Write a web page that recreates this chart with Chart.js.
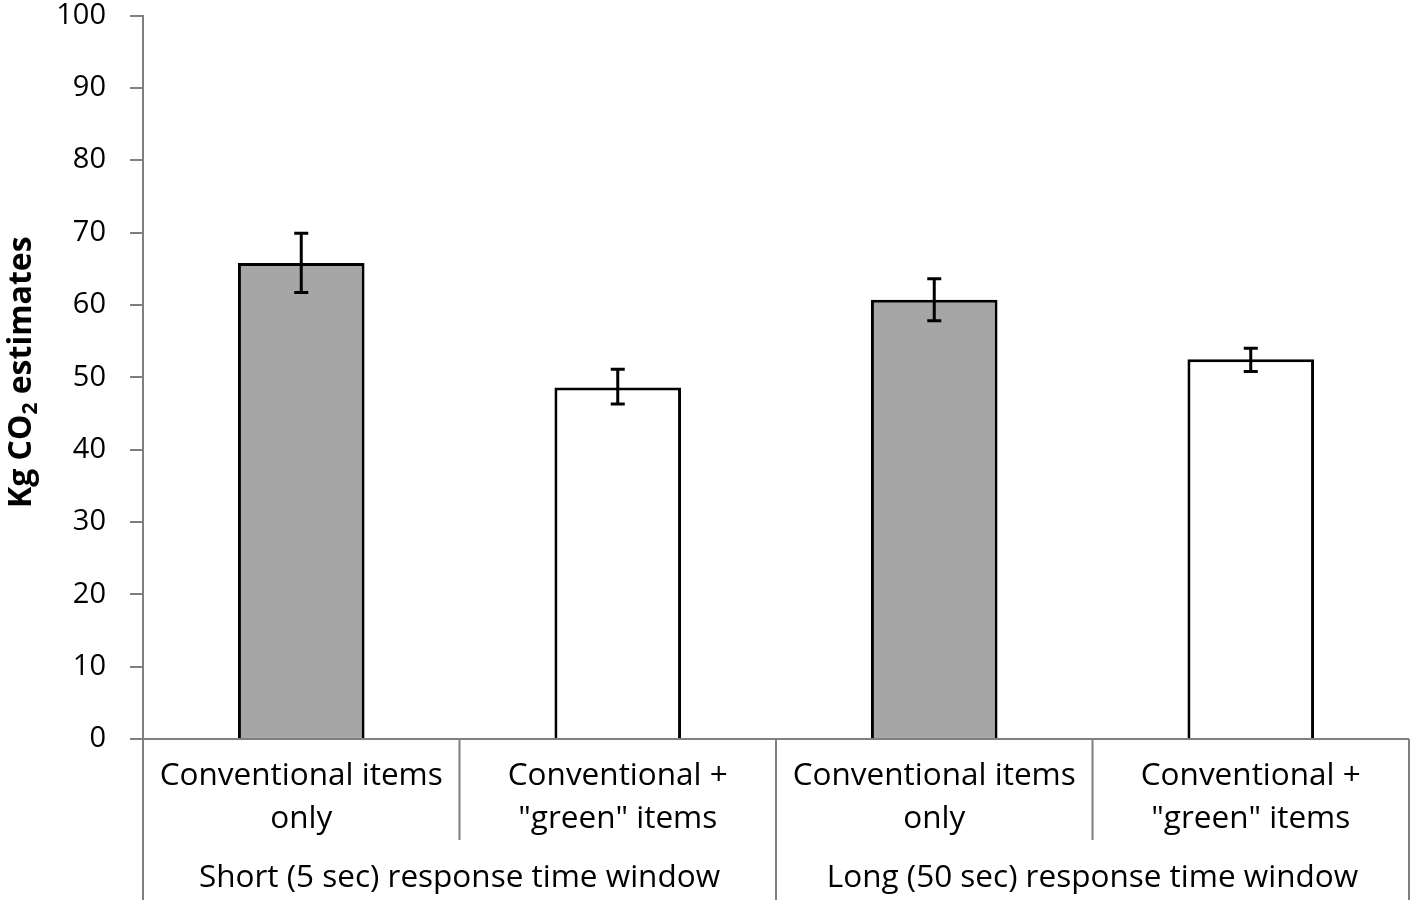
<!DOCTYPE html>
<html>
<head>
<meta charset="utf-8">
<script src="https://cdn.jsdelivr.net/npm/chart.js@4.4.0/dist/chart.umd.min.js"></script>
<style>
  html, body { margin: 0; padding: 0; background: #fff; }
  #wrap { width: 1418px; height: 908px; }
</style>
</head>
<body>
<div id="wrap"><canvas id="chart"></canvas></div>
<script>
// data
var conditions = [['Conventional items', 'only'], ['Conventional +', '"green" items'], ['Conventional items', 'only'], ['Conventional +', '"green" items']];
var windows = ['Short (5 sec) response time window', 'Long (50 sec) response time window'];
var means = [65.8, 48.6, 60.7, 52.5];
var errLow = [61.7, 46.3, 57.8, 50.8];
var errHigh = [69.9, 51.1, 63.6, 54.0];
var yTicks = [0, 10, 20, 30, 40, 50, 60, 70, 80, 90, 100];

var fills = ['#a6a6a6', '#ffffff', '#a6a6a6', '#ffffff'];
var axisGray = '#7f7f7f';
var fontFam = '"Open Sans", sans-serif';

var errorBars = {
    id: 'errorBars',
    afterDatasetsDraw: function (chart) {
        var ctx = chart.ctx, y = chart.scales.y;
        var meta = chart.getDatasetMeta(0);
        ctx.save();
        ctx.strokeStyle = '#000';
        ctx.lineWidth = 3;
        meta.data.forEach(function (bar, i) {
            var x = bar.x, top = y.getPixelForValue(errHigh[i]), bot = y.getPixelForValue(errLow[i]);
            ctx.beginPath();
            ctx.moveTo(x, top); ctx.lineTo(x, bot);
            ctx.moveTo(x - 7, top); ctx.lineTo(x + 7, top);
            ctx.moveTo(x - 7, bot); ctx.lineTo(x + 7, bot);
            ctx.stroke();
        });
        ctx.restore();
    }
};

var categoryAxis = {
    id: 'categoryAxis',
    afterDraw: function (chart) {
        var ctx = chart.ctx, x = chart.scales.x, area = chart.chartArea;
        var base = area.bottom;
        var half = (x.getPixelForValue(1) - x.getPixelForValue(0)) / 2;
        ctx.save();
        ctx.strokeStyle = axisGray;
        ctx.lineWidth = 2;
        ctx.beginPath();
        ctx.moveTo(area.left, base); ctx.lineTo(area.right, base);
        for (var i = 0; i <= conditions.length; i++) {
            var px = x.getPixelForValue(i) - half;
            var outer = (i % 2 === 0);
            ctx.moveTo(px, base); ctx.lineTo(px, outer ? base + 161 : base + 101);
        }
        ctx.stroke();

        ctx.fillStyle = '#000';
        ctx.font = '31.5px ' + fontFam;
        ctx.textAlign = 'center';
        ctx.textBaseline = 'middle';
        conditions.forEach(function (lines, i) {
            var cx = x.getPixelForValue(i);
            lines.forEach(function (t, j) { ctx.fillText(t, cx, base + 37 + j * 43); });
        });
        windows.forEach(function (t, g) {
            var cx = (x.getPixelForValue(g * 2) + x.getPixelForValue(g * 2 + 1)) / 2;
            ctx.fillText(t, cx, base + 139);
        });

        // y axis title with subscript
        ctx.translate(22, (area.top + area.bottom) / 2 - 5);
        ctx.rotate(-Math.PI / 2);
        ctx.textAlign = 'left';
        ctx.textBaseline = 'middle';
        var big = 'bold 32px ' + fontFam, small = 'bold 21px ' + fontFam;
        var parts = [['Kg CO', big, 0], ['2', small, 9], [' estimates', big, 0]];
        var w = 0;
        parts.forEach(function (p) { ctx.font = p[1]; w += ctx.measureText(p[0]).width; });
        var pos = -w / 2;
        parts.forEach(function (p) {
            ctx.font = p[1];
            ctx.fillText(p[0], pos, p[2]);
            pos += ctx.measureText(p[0]).width;
        });
        ctx.restore();
    }
};

new Chart(document.getElementById('chart'), {
    type: 'bar',
    data: {
        labels: conditions.map(function (c) { return c.join(' '); }),
        datasets: [{
            data: means,
            backgroundColor: fills,
            borderColor: '#000',
            borderWidth: 3,
            barPercentage: 0.4,
            categoryPercentage: 1
        }]
    },
    options: {
        responsive: true,
        maintainAspectRatio: false,
        animation: false,
        layout: { padding: { top: 15.5, right: 9, bottom: 169, left: 0 } },
        plugins: { legend: { display: false }, tooltip: { enabled: false } },
        scales: {
            x: { display: false },
            y: {
                min: 0, max: 100,
                afterFit: function (s) { s.width = 143; s.paddingTop = 0; s.paddingBottom = 0; },
                afterBuildTicks: function (s) { s.ticks = yTicks.map(function (v) { return { value: v }; }); },
                border: { color: axisGray, width: 2 },
                grid: { drawOnChartArea: false, drawTicks: true, tickLength: 13, color: axisGray, lineWidth: 2 },
                ticks: { color: '#000', padding: 24, font: { size: 29, family: fontFam } }
            }
        }
    },
    plugins: [errorBars, categoryAxis]
});
</script>
</body>
</html>
